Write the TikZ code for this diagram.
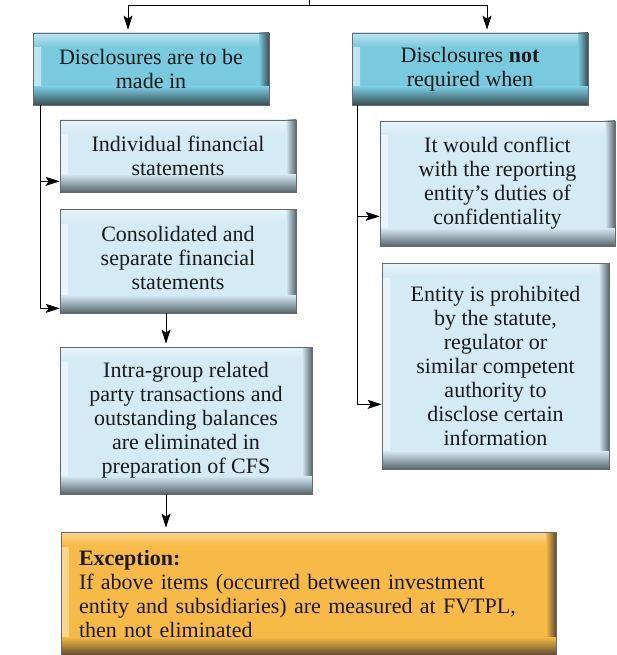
\documentclass[tikz,border=0pt]{standalone}
\usepackage{fontspec}
\setmainfont{Liberation Serif}
\usetikzlibrary{arrows.meta}
\definecolor{hdr}{HTML}{79C9DF}
\definecolor{hdrlt}{HTML}{BFE6F0}
\definecolor{hdrdk}{HTML}{3A4F56}
\definecolor{lb}{HTML}{D4EAF5}
\definecolor{lblt}{HTML}{E8F4FA}
\definecolor{lbdk}{HTML}{58656C}
\definecolor{org}{HTML}{F8BA46}
\definecolor{orglt}{HTML}{FBD690}
\definecolor{orgdk}{HTML}{5E4B30}
\definecolor{boxborder}{HTML}{6A6A6A}
\definecolor{txt}{HTML}{1A1A1A}
\tikzset{
  bevelbox/.style n args={3}{draw=boxborder, line width=0.7pt, fill=#1, inner sep=0pt,
    align=center, text=txt,
    path picture={
      \shade[left color=#2, right color=#1] (path picture bounding box.north west) rectangle ([xshift=8pt]path picture bounding box.south west);
      \shade[top color=#2, bottom color=#1] (path picture bounding box.north west) rectangle ([yshift=-14pt]path picture bounding box.north east);
      \shade[left color=#1, right color=#3] ([xshift=-10pt]path picture bounding box.north east) rectangle (path picture bounding box.south east);
      \shade[top color=#1, bottom color=#3] ([yshift=18pt]path picture bounding box.south west) rectangle (path picture bounding box.south east);
    }},
  hdrbox/.style={bevelbox={hdr}{hdrlt}{hdrdk}},
  lightbox/.style={bevelbox={lb}{lblt}{lbdk}},
  orangebox/.style={bevelbox={org}{orglt}{orgdk}},
  arr/.style={draw=black, line width=0.8pt, -{Stealth[length=14pt,width=9pt,inset=3pt]}},
  plain/.style={draw=black, line width=0.8pt},
}
\begin{document}
\begin{tikzpicture}[x=1pt,y=-1pt, font=\fontsize{22}{24}\selectfont]
\useasboundingbox (0,0) rectangle (616,655);
\node[hdrbox, minimum width=236pt, minimum height=72pt] (A) at (151,69) {Disclosures are to be\\made in};
\node[hdrbox, minimum width=236pt, minimum height=72pt] (B) at (470,69) {Disclosures \textbf{not}\\required when};
\node[lightbox, minimum width=236pt, minimum height=72pt] (C) at (178,156) {Individual financial\\statements};
\node[lightbox, minimum width=236pt, minimum height=104pt] (D) at (178,261) {Consolidated and\\separate financial\\statements\\[-18pt]\mbox{}};
\node[lightbox, minimum width=252pt, minimum height=147pt] (E) at (186,420.5) {Intra-group related\\party transactions and\\outstanding balances\\are eliminated in\\preparation of CFS};
\node[lightbox, minimum width=235pt, minimum height=125pt] (G) at (497.5,183.5) {It would conflict\\with the reporting\\entity’s duties of\\confidentiality};
\node[lightbox, minimum width=227pt, minimum height=206pt] (H) at (495.5,366) {Entity is prohibited\\by the statute,\\regulator or\\similar competent\\authority to\\disclose certain\\information};
\node[orangebox, align=left, text width=459pt, inner xsep=18pt, minimum height=123pt] (F) at (308.5,593.5) {\textbf{Exception:}\\If above items (occurred between investment\\entity and subsidiaries) are measured at FVTPL,\\then not eliminated};
\coordinate (top) at (309,0);
\coordinate (j) at (309,5);
\draw[plain] (top) -- (j);
\draw[arr] (j) -| ([xshift=-23pt,yshift=3pt]A.north);
\draw[arr] (j) -| ([xshift=17pt,yshift=3pt]B.north);
\draw[arr] ([xshift=8pt]A.south west) |- ([yshift=11pt]C.south west);
\draw[arr] ([xshift=8pt]A.south west) |- ([yshift=5pt]D.south west);
\draw[arr] ([xshift=6pt]B.south west) |- ([yshift=30pt]G.south west);
\draw[arr] ([xshift=6pt]B.south west) |- ([yshift=65pt]H.south west);
\draw[arr] ([xshift=-12pt]D.south) -- ([xshift=-20pt,yshift=3pt]E.north);
\draw[arr] ([xshift=-20pt]E.south) -- ([xshift=-142.5pt,yshift=4pt]F.north);
\end{tikzpicture}
\end{document}
